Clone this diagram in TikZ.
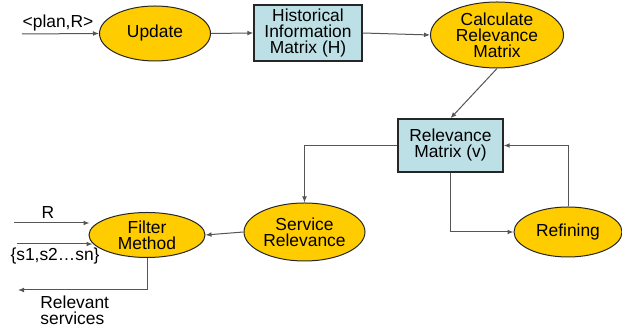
\documentclass[tikz,border=0pt]{standalone}
\usepackage{fontspec}
\setmainfont{Liberation Sans}
\usetikzlibrary{shapes.geometric,arrows.meta}
\definecolor{gold}{RGB}{255,204,0}
\definecolor{boxblue}{RGB}{188,224,230}
\definecolor{linegray}{RGB}{85,85,85}
\tikzset{
  every node/.style={font=\fontsize{8.7}{8}\selectfont, text=black},
  oval/.style={ellipse, draw=black!85, line width=0.5pt, fill=gold, inner sep=0pt, align=center},
  matbox/.style={rectangle, draw=black!85, line width=0.7pt, fill=boxblue, inner sep=0pt, align=center},
  lbl/.style={inner sep=0pt, align=left},
  arr/.style={draw=linegray, line width=0.5pt, -{Latex[length=3pt,width=2.4pt]}},
}
\begin{document}
\begin{tikzpicture}[x=0.5pt,y=-0.5pt]
\useasboundingbox (0,0) rectangle (622,330);
% nodes
\node[oval, minimum width=55.5pt, minimum height=27.5pt] (upd) at (155,33.5) {Update};
\node[matbox, minimum width=54pt, minimum height=28pt] (hist) at (308,33) {Historical\\Information\\Matrix (H)};
\node[oval, minimum width=66.5pt, minimum height=33pt] (calc) at (497,35) {Calculate\\Relevance\\Matrix};
\node[matbox, minimum width=52.5pt, minimum height=26.5pt] (rm) at (450.5,145.5) {Relevance\\Matrix (v)};
\node[oval, minimum width=60.5pt, minimum height=29pt] (sr) at (304.5,232) {Service\\Relevance};
\node[oval, minimum width=54pt, minimum height=25pt] (ref) at (568,232) {Refining};
\node[oval, minimum width=58pt, minimum height=22.5pt] (fm) at (147,235) {Filter\\Method};
% labels
\node[lbl] (lplan) at (58,23) {<plan,R>};
\node[lbl] (lr) at (48,213) {R};
\node[lbl] (ls) at (55,256) {\{s1,s2…sn\}};
\node[lbl, anchor=west] (lrel) at (40,310) {Relevant\\services};
% free ends
\coordinate (pin) at (22,34);
\coordinate (rin) at (14,223);
\coordinate (sin) at (17,244);
\coordinate (rout) at (18,290);
% connectors
\draw[arr] (pin) -- (upd.west);
\draw[arr] (upd.east) -- (hist.west);
\draw[arr] (hist.east) -- (calc.west);
\draw[arr] (calc.south) -- (rm.north);
\draw[arr] (rm.west) -| (sr.north);
\draw[arr] (rm.south) |- (ref.west);
\draw[arr] (ref.north) |- (rm.east);
\draw[arr] (sr.west) -- (fm.east);
\draw[arr] (rin) -- ([xshift=0.5pt]rin -| fm.west);
\draw[arr] (sin) -- ([xshift=2pt]sin -| fm.west);
\draw[arr] (fm.south) |- (rout);
\end{tikzpicture}
\end{document}
